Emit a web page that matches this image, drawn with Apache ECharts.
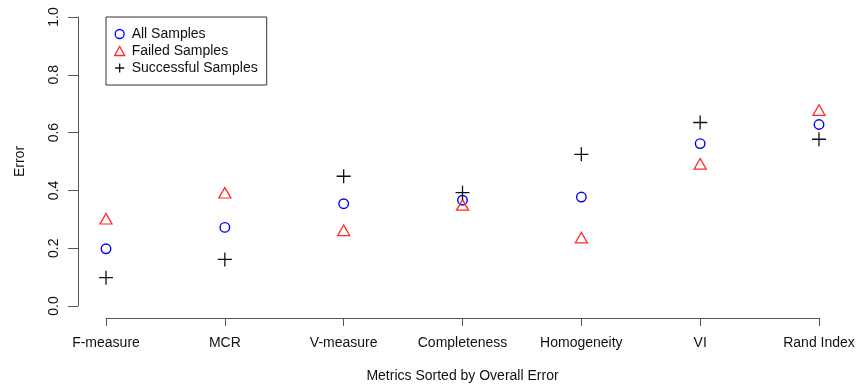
<!DOCTYPE html>
<html>
<head>
<meta charset="utf-8">
<script src="https://cdn.jsdelivr.net/npm/echarts@6/dist/echarts.min.js"></script>
<style>
html,body{margin:0;padding:0;background:#fff;}
#chart{width:857px;height:387px;}
</style>
</head>
<body>
<div id="chart"></div>
<script>
const categories = ['F-measure', 'MCR', 'V-measure', 'Completeness', 'Homogeneity', 'VI', 'Rand Index'];
const allSamples = [0.198, 0.272, 0.354, 0.366, 0.377, 0.562, 0.628];
const failedSamples = [0.295, 0.385, 0.255, 0.343, 0.230, 0.485, 0.671];
const successfulSamples = [0.098, 0.161, 0.449, 0.392, 0.525, 0.635, 0.577];
const yMin = 0, yMax = 1, yStep = 0.2;
const xTitle = 'Metrics Sorted by Overall Error';
const yTitle = 'Error';

const FONT = "'Liberation Sans', Arial, Helvetica, sans-serif";
const TXT = '#111';
const AX = '#555';

const chart = echarts.init(document.getElementById('chart'), null, {renderer: 'canvas'});
chart.setOption({
  animation: false,
  backgroundColor: '#fff',
  textStyle: {fontFamily: FONT},
  grid: {left: 106, right: 38, top: 17, bottom: 81, containLabel: false, outerBoundsMode: 'none'},
  legend: {
    left: 106, top: 17,
    orient: 'vertical',
    selectedMode: false,
    padding: [10, 9, 10, 8],
    itemGap: 3,
    itemWidth: 10,
    itemHeight: 9,
    borderColor: '#333',
    borderWidth: 1,
    backgroundColor: '#fff',
    itemStyle: {borderWidth: 1.3},
    textStyle: {fontFamily: FONT, fontSize: 14, color: TXT, lineHeight: 14, padding: [0, 0, 0, 2]},
    data: ['All Samples', 'Failed Samples', 'Successful Samples']
  },
  xAxis: {
    type: 'category',
    data: categories,
    boundaryGap: false,
    offset: 12,
    axisLine: {show: true, onZero: false, lineStyle: {color: AX, width: 1}},
    axisTick: {show: true, length: 8, lineStyle: {color: AX, width: 1}},
    axisLabel: {fontFamily: FONT, fontSize: 14, color: TXT, margin: 18, lineHeight: 14, interval: 0},
    splitLine: {show: false},
    name: xTitle,
    nameLocation: 'middle',
    nameGap: 51,
    nameTextStyle: {fontFamily: FONT, fontSize: 14, color: TXT, lineHeight: 14}
  },
  yAxis: {
    type: 'value',
    min: yMin, max: yMax, interval: yStep,
    offset: 28,
    axisLine: {show: true, onZero: false, lineStyle: {color: AX, width: 1}},
    axisTick: {show: true, length: 10, lineStyle: {color: AX, width: 1}},
    axisLabel: {fontFamily: FONT, fontSize: 14, color: TXT, margin: 17, rotate: 90, lineHeight: 14,
      formatter: v => v.toFixed(1)},
    splitLine: {show: false},
    name: yTitle,
    nameLocation: 'middle',
    nameGap: 51,
    nameTextStyle: {fontFamily: FONT, fontSize: 14, color: TXT, lineHeight: 14}
  },
  series: [
    {
      name: 'All Samples', type: 'scatter',
      data: allSamples,
      symbol: 'circle', symbolSize: 9.5,
      itemStyle: {color: 'rgba(0,0,0,0)', borderColor: '#0000ff', borderWidth: 1.4, opacity: 1},
      emphasis: {disabled: true}
    },
    {
      name: 'Failed Samples', type: 'scatter',
      data: failedSamples,
      symbol: 'triangle', symbolSize: [12, 10.5], symbolOffset: [0, -2],
      itemStyle: {color: 'rgba(0,0,0,0)', borderColor: '#ff2a2a', borderWidth: 1.3, opacity: 1},
      emphasis: {disabled: true}
    },
    {
      name: 'Successful Samples', type: 'scatter',
      data: successfulSamples,
      symbol: 'path://M0,7H14M7,0V14', symbolSize: 14,
      itemStyle: {color: 'rgba(0,0,0,0)', borderColor: '#111', borderWidth: 1.3, opacity: 1},
      emphasis: {disabled: true}
    }
  ]
});
</script>
</body>
</html>
